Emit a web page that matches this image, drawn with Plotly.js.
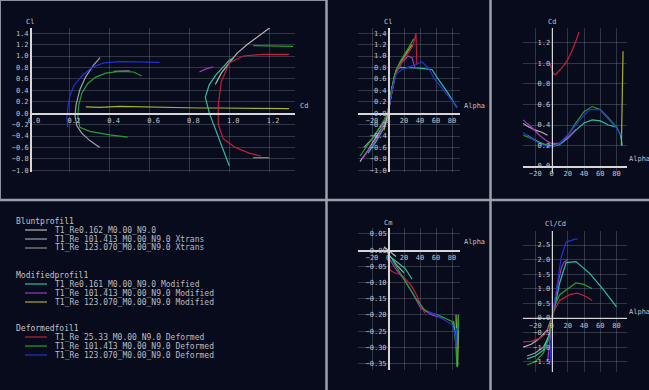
<!DOCTYPE html>
<html><head><meta charset="utf-8">
<script src="https://cdn.plot.ly/plotly-3.0.1.min.js"></script>
<style>html,body{margin:0;padding:0;background:#070b1b;}#c{width:649px;height:390px;}</style>
</head><body><div id="c"></div><script>
// ---------- series / legend ----------
const groupTitles = ["Bluntprofil1", "Modifiedprofil1", "Deformedfoil1"];
const seriesNames = [
  "T1_Re0.162_M0.00_N9.0",
  "T1_Re 101.413_M0.00_N9.0 Xtrans",
  "T1_Re 123.070_M0.00_N9.0 Xtrans",
  "T1_Re0.161_M0.00_N9.0 Modified",
  "T1_Re 101.413_M0.00_N9.0 Modified",
  "T1_Re 123.070_M0.00_N9.0 Modified",
  "T1_Re 25.33_M0.00_N9.0 Deformed",
  "T1_Re 101.413_M0.00_N9.0 Deformed",
  "T1_Re 123.070_M0.00_N9.0 Deformed"
];
const seriesColors = ["#b4b4b4","#9aa2a8","#8c8c8c","#2cc0a0","#a038c0","#a8b030","#c0203c","#22a030","#2530d0"];

// ---------- Cl vs Cd ----------
const polarCd = [
  [0.93,0.96,1.0,1.04,1.09,1.146,1.206],
  [0.35,0.3,0.26,0.235,0.226,0.231,0.25,0.28,0.317,0.352],
  [0.42,0.46,0.5,null,1.12,1.2],
  [1.0,0.965,0.93,0.9,0.88,0.9,0.935,0.97,1.0,1.02],
  [0.85,0.88,0.92],
  [0.28,0.35,0.45,0.55,0.65,0.75,0.85,0.95,1.05,1.15,1.25,1.3],
  [1.16,1.1,1.03,0.97,0.945,0.945,0.96,1.0,1.07,1.17,1.3],
  [0.49,0.4,0.3,0.25,0.24,0.245,0.26,0.29,0.33,0.38,0.45,0.52,0.56,null,1.12,1.2,1.32],
  [0.19,0.185,0.19,0.2,0.22,0.26,0.31,0.37,0.45,0.55,0.65]
];
const polarCl = [
  [0.5,0.7,0.88,1.05,1.2,1.35,1.5],
  [-0.6,-0.48,-0.35,-0.22,-0.05,0.14,0.41,0.64,0.83,0.97],
  [0.73,0.73,0.74,null,-0.78,-0.78],
  [-0.92,-0.6,-0.3,0.0,0.28,0.5,0.68,0.81,0.92,0.97],
  [0.72,0.77,0.81],
  [0.11,0.1,0.12,0.11,0.1,0.1,0.09,0.09,0.085,0.08,0.08,0.08],
  [-0.75,-0.7,-0.6,-0.45,-0.2,0.15,0.55,0.88,1.0,1.03,1.03],
  [-0.42,-0.38,-0.32,-0.25,-0.05,0.15,0.35,0.52,0.63,0.7,0.73,0.72,0.65,null,1.18,1.18,1.17],
  [-0.25,-0.1,0.1,0.3,0.48,0.65,0.8,0.88,0.9,0.9,0.89]
];

// ---------- Cl vs Alpha ----------
const clAlpha = [
  [-35,-25,-15,-5,0,5,10],
  [-30,-20,-10,0,4,8,12],
  [],
  [-25,-15,-5,0,5,10,15,25,35,45,55,65,75,86],
  [-32,-22,-12,-4,0,5,10,18,25,30,34],
  [-5,0,5,10,15,20,25,30],
  [0,5,10,15,20,25,30,33,35,36],
  [-35,-25,-15,-5,0,5,10,15,22,28,32],
  [0,5,10,17,25,35,42,50,59,70,80,87]
];
const clValues = [
  [-0.85,-0.65,-0.42,-0.2,0.0,0.4,0.75],
  [-0.6,-0.45,-0.25,-0.05,0.35,0.65,0.8],
  [],
  [-0.7,-0.5,-0.25,0.02,0.45,0.75,0.8,0.8,0.79,0.78,0.76,0.55,0.35,0.1],
  [-0.8,-0.6,-0.4,-0.15,0.02,0.4,0.7,0.9,1.0,0.97,0.78],
  [-0.3,0.0,0.42,0.72,0.88,0.98,1.08,1.2],
  [0.05,0.4,0.7,0.85,0.95,1.05,1.15,1.28,1.4,0.85],
  [-0.75,-0.55,-0.35,-0.12,0.03,0.45,0.75,0.9,1.05,1.2,1.3],
  [0.02,0.4,0.68,0.76,0.8,0.85,0.9,0.8,0.58,0.4,0.22,0.1]
];

// ---------- Cd vs Alpha ----------
const cdAlpha = [
  [-36,-28,-20,-12,-5],
  [-30,-20,-10,0,10,20],
  [],
  [-30,-20,-10,0,10,20,30,40,50,60,70,80,85,87],
  [-35,-25,-15,-5,0,10,20,30],
  [86,86.5,87,87.5,88],
  [-2,0,2,5,10,15,20,25,30,34],
  [-35,-25,-15,-5,0,10,20,30,40,50,60,70,80],
  [-36,-25,-15,-5,0,10,22,35,47,59,71,80,86]
];
const cdValues = [
  [0.42,0.38,0.35,0.33,0.3],
  [0.3,0.25,0.21,0.2,0.22,0.28],
  [],
  [0.3,0.25,0.21,0.19,0.21,0.27,0.35,0.42,0.45,0.44,0.4,0.38,0.3,0.2],
  [0.45,0.38,0.3,0.24,0.22,0.22,0.28,0.36],
  [0.2,0.45,0.75,1.0,1.12],
  [1.0,0.95,0.9,0.89,0.93,0.98,1.04,1.12,1.22,1.31],
  [0.3,0.27,0.23,0.2,0.19,0.22,0.3,0.42,0.53,0.58,0.55,0.47,0.38],
  [0.33,0.27,0.22,0.19,0.19,0.22,0.32,0.45,0.55,0.55,0.45,0.37,0.3]
];

// ---------- Cm vs Alpha ----------
const cmAlpha = [
  [-5,0,5,10],
  [-3,0,5,12,20],
  [],
  [0,5,10,15,21,25,30,null,82,84,86,87,88],
  [0,5,10,20,30,41,55,68],
  [85,86,87,88],
  [0,2.5,8,17,24,30,36,40,46],
  [5,10,17,25,35,46,55,62,72,80,83,85,86,87,88],
  [50,60,70,80,84,85,86]
];
const cmValues = [
  [0.01,0.0,-0.01,-0.02],
  [0.0,-0.01,-0.025,-0.05,-0.07],
  [],
  [-0.015,-0.025,-0.035,-0.045,-0.056,-0.07,-0.09,null,-0.22,-0.26,-0.32,-0.3,-0.2],
  [-0.02,-0.04,-0.06,-0.09,-0.13,-0.18,-0.2,-0.21],
  [-0.2,-0.3,-0.36,-0.25],
  [-0.03,-0.062,-0.07,-0.077,-0.095,-0.113,-0.14,-0.165,-0.195],
  [-0.03,-0.05,-0.08,-0.11,-0.15,-0.185,-0.195,-0.2,-0.21,-0.22,-0.25,-0.3,-0.36,-0.28,-0.2],
  [-0.19,-0.2,-0.215,-0.23,-0.26,-0.3,-0.24]
];

// ---------- Cl/Cd vs Alpha ----------
const ratioAlpha = [
  [-35,-25,-15,-5,0],
  [-30,-20,-10,-3,0],
  [],
  [-30,-20,-10,-2,0,4,10,18,30,47,63,80],
  [-5,-2,0,3,8,12,15,20],
  [],
  [-35,-25,-15,-8,-3,0,5,10,22,32,43,50],
  [-30,-20,-10,-3,0,5,10,18,30,40,50],
  [-2,-1,0,1,4,8,12,18,29,32]
];
const ratioValues = [
  [-1.0,-0.9,-0.7,-0.4,0.0],
  [-1.3,-1.2,-1.0,-0.6,0.0],
  [],
  [-1.4,-1.3,-1.1,-0.5,0.0,0.38,1.2,1.9,1.93,1.53,1.0,0.38],
  [-1.5,-0.8,-0.3,0.4,1.2,1.7,1.9,2.0],
  [],
  [-0.82,-0.8,-0.7,-0.55,-0.3,0.0,0.35,0.6,0.8,0.85,0.73,0.6],
  [-1.6,-1.5,-1.2,-0.7,0.0,0.5,0.8,0.96,1.2,1.15,1.0],
  [-1.6,-1.0,-0.3,0.0,0.6,1.4,2.1,2.6,2.7,2.7]
];

// ---------- layout ----------
const W = 649, H = 390;
const fx = px => px / W, fy = py => 1 - py / H;
const FONT = "DejaVu Sans Mono";
const TXT = "#c4c4c8";
const GRID = "rgba(150,155,170,0.30)";
const AXL = "#d6d6d6";

const charts = [
  {xd:[30,295], xr:[0,1.33], yd:[28,172], yr:[-1.03,1.49], xdt:0.2, xf:".1f", ydt:0.2, yf:".1f", xs:polarCd, ys:polarCl,
   xt:"Cd", xtp:[298,106], yt:"Cl", ytp:[30,22], xshift:4},
  {xd:[358.4,460], xr:[-37,90], yd:[28,172], yr:[-1.03,1.49], xdt:20, xf:"d", ydt:0.2, yf:".1f", xs:clAlpha, ys:clValues,
   xt:"Alpha", xtp:[462,106], yt:"Cl", ytp:[388,22], xshift:0},
  {xd:[523.1,627.1], xr:[-35,93], yd:[27.6,173.2], yr:[-0.07,1.35], xdt:20, xf:"d", ydt:0.2, yf:".1f", xs:cdAlpha, ys:cdValues,
   xt:"Alpha", xtp:[627,159], yt:"Cd", ytp:[552,22], xshift:0},
  {xd:[358.4,460], xr:[-37,90], yd:[228,370], yr:[-0.37,0.068], xdt:20, xf:"d", ydt:0.05, yf:".2f", xs:cmAlpha, ys:cmValues,
   xt:"Alpha", xtp:[462,242], yt:"Cm", ytp:[388,223], xshift:0},
  {xd:[523.1,627.1], xr:[-35,93], yd:[231,372], yr:[-1.85,2.98], xdt:20, xf:"d", ydt:0.5, yf:".1f", xs:ratioAlpha, ys:ratioValues,
   xt:"Alpha", xtp:[627,312], yt:"Cl/Cd", ytp:[555,224], xshift:0}
];

const layout = {
  width: W, height: H, margin: {l:0,r:0,t:0,b:0},
  paper_bgcolor: "#070b1b", plot_bgcolor: "rgba(0,0,0,0)",
  showlegend: false, annotations: [], shapes: [],
  font: {family: FONT, size: 7, color: TXT}
};
const traces = [];

charts.forEach((c, i) => {
  const k = i === 0 ? "" : String(i + 1);
  const xdom = [fx(c.xd[0]), fx(c.xd[1])];
  const ydom = [fy(c.yd[1]), fy(c.yd[0])];
  const xPos = ydom[0] + (0 - c.yr[0]) / (c.yr[1] - c.yr[0]) * (ydom[1] - ydom[0]);
  const yPos = xdom[0] + (0 - c.xr[0]) / (c.xr[1] - c.xr[0]) * (xdom[1] - xdom[0]);
  layout["xaxis" + k] = {
    domain: xdom, range: c.xr, anchor: "free", position: xPos,
    showline: true, linecolor: AXL, linewidth: 1.5, zeroline: false,
    showgrid: true, gridcolor: GRID, gridwidth: 1, ticks: "",
    tick0: 0, dtick: c.xdt, tickformat: c.xf, ticklabelshift: c.xshift,
    tickfont: {family: FONT, size: 7, color: TXT}, fixedrange: true
  };
  layout["yaxis" + k] = {
    domain: ydom, range: c.yr, anchor: "free", position: yPos,
    showline: true, linecolor: AXL, linewidth: 1.5, zeroline: false,
    showgrid: true, gridcolor: GRID, gridwidth: 1, ticks: "",
    tick0: 0, dtick: c.ydt, tickformat: c.yf,
    tickfont: {family: FONT, size: 7, color: TXT}, fixedrange: true
  };
  layout.annotations.push({xref:"paper", yref:"paper", x:fx(c.xtp[0]), y:fy(c.xtp[1]), xanchor:"left", yanchor:"middle",
    text:c.xt, showarrow:false, font:{family:FONT, size:7, color:TXT}});
  layout.annotations.push({xref:"paper", yref:"paper", x:fx(c.ytp[0]), y:fy(c.ytp[1]), xanchor:"center", yanchor:"middle",
    text:c.yt, showarrow:false, font:{family:FONT, size:7, color:TXT}});
  c.xs.forEach((xs, s) => {
    if (!xs.length) return;
    traces.push({type:"scatter", mode:"lines", x: xs, y: c.ys[s], xaxis:"x" + k, yaxis:"y" + k,
      line:{color: seriesColors[s], width: 1.2}, connectgaps:false, hoverinfo:"skip", showlegend:false});
  });
});

// ---------- custom legend panel ----------
const headerY = [221, 275, 328];
const itemStep = 9;
seriesNames.forEach((name, s) => {
  const g = Math.floor(s / 3), j = s % 3;
  if (j === 0) {
    layout.annotations.push({xref:"paper", yref:"paper", x:fx(14), y:fy(headerY[g]), xanchor:"left", yanchor:"middle",
      text: groupTitles[g], showarrow:false, font:{family:FONT, size:8, color:"#c4c4c8"}});
  }
  const yy = headerY[g] + itemStep * (j + 1);
  layout.shapes.push({type:"line", xref:"paper", yref:"paper", x0:fx(25), x1:fx(47), y0:fy(yy), y1:fy(yy),
    line:{color: seriesColors[s], width: 1.2}});
  layout.annotations.push({xref:"paper", yref:"paper", x:fx(53), y:fy(yy), xanchor:"left", yanchor:"middle",
    text: name, showarrow:false, font:{family:FONT, size:8, color:"#bcbcc0"}});
});

// ---------- panel frame lines ----------
const frame = "#9aa0ac";
layout.shapes.push({type:"line", xref:"paper", yref:"paper", x0:fx(326.5), x1:fx(326.5), y0:0, y1:1, line:{color:frame, width:2.5}});
layout.shapes.push({type:"line", xref:"paper", yref:"paper", x0:fx(490.5), x1:fx(490.5), y0:0, y1:1, line:{color:frame, width:2.5}});
layout.shapes.push({type:"line", xref:"paper", yref:"paper", x0:0, x1:1, y0:fy(200), y1:fy(200), line:{color:frame, width:2.5}});
layout.shapes.push({type:"line", xref:"paper", yref:"paper", x0:fx(0.5), x1:fx(0.5), y0:fy(200), y1:1, line:{color:"#8a909c", width:1}});
layout.shapes.push({type:"line", xref:"paper", yref:"paper", x0:0, x1:fx(326), y0:fy(0.5), y1:fy(0.5), line:{color:"#8a909c", width:1}});

Plotly.newPlot("c", traces, layout, {staticPlot:true, displayModeBar:false});
</script></body></html>
